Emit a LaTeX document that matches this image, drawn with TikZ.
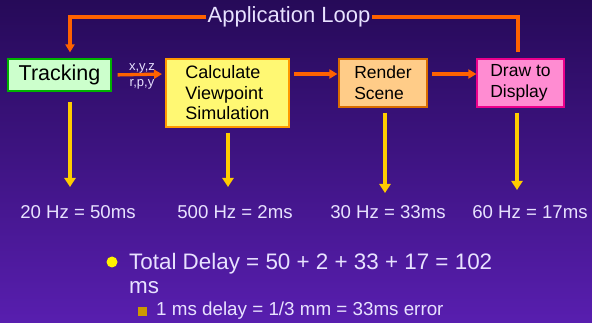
\documentclass[tikz,border=0pt]{standalone}
\usepackage{fontspec}
\setmainfont{Liberation Sans}
\usetikzlibrary{arrows.meta}

\definecolor{bgtop}{RGB}{38,10,88}
\definecolor{bgbot}{RGB}{88,30,175}
\definecolor{loopor}{RGB}{255,98,0}
\definecolor{gold}{RGB}{255,204,0}
\definecolor{subsq}{RGB}{204,153,0}
\definecolor{pinkbox}{RGB}{255,140,210}
\definecolor{peach}{RGB}{255,204,136}
\definecolor{txt}{RGB}{232,226,255}

\tikzset{
  box/.style={draw,line width=1.2pt,inner sep=0pt,text=black},
  flow/.style={draw=loopor,line width=3.3pt,-{Triangle[width=9pt,length=8pt]}},
  down/.style={draw=gold,line width=4.5pt,-{Triangle[width=11pt,length=9pt]}},
  lbl/.style={text=txt,inner sep=0pt}
}

\begin{document}
\begin{tikzpicture}[x=1pt,y=-1pt,line join=miter]
\shade[top color=bgtop,bottom color=bgbot] (0,0) rectangle (592,323);

% the four stages
\node[box,draw=green!70!black,fill=green!20,minimum width=103pt,minimum height=32pt,
  font=\fontsize{21.5}{24}\selectfont] (trk) at (59.5,75) {Tracking};
\node[box,draw=orange!80!yellow,fill=yellow!55,minimum width=123pt,minimum height=68pt,
  align=left,font=\fontsize{18}{20.5}\selectfont] (calc) at (227.5,93) {Calculate\\Viewpoint\\Simulation};
\node[box,draw=orange!85!black,fill=peach,minimum width=88pt,minimum height=48pt,
  align=left,font=\fontsize{17.5}{21}\selectfont] (rend) at (383,83) {Render\\Scene};
\node[box,draw=magenta,fill=pinkbox,minimum width=87pt,minimum height=48pt,
  align=left,font=\fontsize{17.5}{21}\selectfont] (disp) at (520.5,83) {Draw to\\Display};

% loop back
\node[lbl,inner sep=1pt,font=\fontsize{22}{24}\selectfont] (loop) at (289,17) {Application Loop};
\draw[draw=loopor,line width=3.3pt,shorten <=6pt] ([xshift=-2.5pt]disp.north) |- (loop.east);
\draw[flow,shorten >=6pt] (loop.west) -| ([xshift=10.5pt]trk.north);

% data passed between stages
\coordinate (c1) at (166,74);
\coordinate (c2) at (289,74);
\coordinate (c3) at (427,74);
\draw[flow,shorten <=6pt,shorten >=4pt] (trk.east) -- (c1);
\node[lbl,font=\fontsize{13}{14}\selectfont] (xyz) at (142,68) {x,y,z};
\node[lbl,font=\fontsize{13}{14}\selectfont] (rpy) at (142,84) {r,p,y};
\draw[flow,shorten <=5pt,shorten >=1pt] (c2) -- (c2 -| rend.west);
\draw[flow,shorten <=5pt,shorten >=0pt] (c3) -- (c3 -| disp.west);

% update rates
\begin{scope}[font=\fontsize{18.6}{20}\selectfont]
\node[lbl] (r1) at (78,212) {20 Hz = 50ms};
\node[lbl] (r2) at (235,212) {500 Hz = 2ms};
\node[lbl] (r3) at (388,212) {30 Hz = 33ms};
\node[lbl] (r4) at (530,212) {60 Hz = 17ms};
\end{scope}
\coordinate (d1) at (70,187);
\coordinate (d2) at (228,187);
\coordinate (d3) at (385,193);
\coordinate (d4) at (517,190);
\draw[down] (d1 |- trk.south) ++(0,10) -- (d1);
\draw[down] (d2 |- calc.south) ++(0,5) -- (d2);
\draw[down] (d3 |- rend.south) ++(0,5) -- (d3);
\draw[down] (d4 |- disp.south) ++(0,5) -- (d4);

% totals
\fill[yellow] (112,262) circle (5.5pt);
\node[lbl,anchor=west,align=left,font=\fontsize{22.4}{24}\selectfont] (tot) at (129,273)
  {Total Delay = 50 + 2 + 33 + 17 = 102\\ms};
\fill[subsq] (137.5,306.5) rectangle (146.5,315.5);
\node[lbl,anchor=west,font=\fontsize{18.8}{20}\selectfont] (err) at (156,311)
  {1 ms delay = 1/3 mm = 33ms error};
\end{tikzpicture}
\end{document}
